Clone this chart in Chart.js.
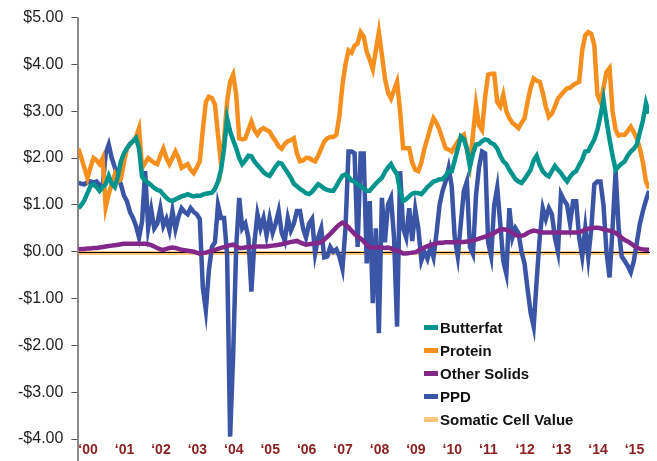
<!DOCTYPE html>
<html>
<head>
<meta charset="utf-8">
<script src="https://cdn.jsdelivr.net/npm/chart.js@4.4.0/dist/chart.umd.min.js"></script>
<style>
body { margin: 0; background: #fff; }
#wrap { position: relative; width: 657px; height: 461px; }
#legend { position: absolute; left: 424px; top: 316px; font: bold 15px "Liberation Sans", Arial, sans-serif; color: #111; }
.row { height: 23px; display: flex; align-items: center; white-space: nowrap; }
.sw { width: 14px; height: 5px; margin-right: 2px; }
</style>
</head>
<body>
<div id="wrap">
<canvas id="myChart" width="657" height="461"></canvas>
<div id="legend"></div>
</div>
<script>
// monthly values, Jan 2000 - Sep 2015 ($/cwt)
const yearLabels = ['‘00', '‘01', '‘02', '‘03', '‘04', '‘05', '‘06', '‘07', '‘08', '‘09', '‘10', '‘11', '‘12', '‘13', '‘14', '‘15'];

const butterfat = [
    0.93, 1.0, 1.1, 1.25, 1.4, 1.44, 1.38, 1.3, 1.38, 1.44, 1.62, 1.45,
    1.38, 1.6, 1.93, 2.1, 2.21, 2.3, 2.36, 2.43, 2.2, 1.6, 1.52, 1.47,
    1.42, 1.36, 1.32, 1.3, 1.22, 1.15, 1.1, 1.08, 1.12, 1.15, 1.18, 1.2,
    1.23, 1.2, 1.18, 1.2, 1.19, 1.22, 1.24, 1.25, 1.26, 1.34, 1.5, 1.75,
    2.2, 2.85, 2.57, 2.38, 2.21, 2.0, 1.87, 1.95, 2.05, 2.04, 1.93, 1.85,
    1.78, 1.7, 1.65, 1.62, 1.72, 1.82, 1.9, 1.88, 1.78, 1.68, 1.58, 1.45,
    1.4, 1.34, 1.3, 1.25, 1.23, 1.28, 1.36, 1.44, 1.4, 1.35, 1.32, 1.3,
    1.3, 1.4, 1.52, 1.62, 1.65, 1.6, 1.52, 1.5, 1.44, 1.4, 1.35, 1.3,
    1.3, 1.38, 1.45, 1.52, 1.58, 1.7, 1.8, 1.87, 1.75, 1.65, 1.3, 1.08,
    1.12, 1.18, 1.24, 1.26, 1.25, 1.23, 1.3, 1.38, 1.44, 1.5, 1.52, 1.55,
    1.55, 1.62, 1.72, 1.72, 1.95, 2.2, 2.46, 2.4, 2.2, 1.82, 2.1, 2.29,
    2.3, 2.36, 2.4, 2.38, 2.32, 2.29, 2.2, 2.05, 1.93, 1.87, 1.75, 1.65,
    1.55, 1.5, 1.47, 1.55, 1.65, 1.75, 1.95, 2.05, 1.85, 1.72, 1.65, 1.61,
    1.72, 1.83, 1.75, 1.68, 1.58, 1.5, 1.6, 1.68, 1.72, 1.85, 1.97, 2.14,
    2.15, 2.28, 2.4, 2.6, 2.9, 3.25, 2.8, 2.4, 2.05, 1.75, 1.82, 1.88,
    1.93, 2.05, 2.14, 2.2, 2.29, 2.55, 2.8, 3.17, 2.95
];

const protein = [
    2.2, 2.0, 1.79, 1.57, 1.8, 2.0, 1.95, 1.87, 2.0, 0.95, 1.23, 1.45,
    1.65, 1.5, 1.55, 1.9, 2.2, 2.3, 2.36, 2.45, 2.64, 1.79, 1.9, 2.0,
    1.95, 1.9, 1.87, 2.05, 2.2, 2.0, 1.87, 2.0, 2.14, 2.0, 1.79, 1.83,
    1.87, 1.75, 1.68, 1.8, 1.93, 2.6, 3.2, 3.31, 3.28, 3.14, 2.5, 1.87,
    2.4, 3.2, 3.63, 3.78, 3.35, 2.42, 2.4, 2.42, 2.6, 2.78, 2.6, 2.5,
    2.6, 2.64, 2.6, 2.57, 2.45, 2.36, 2.25, 2.2, 2.3, 2.36, 2.38, 2.42,
    2.1, 1.93, 1.95, 2.0, 2.0, 1.96, 1.93, 2.05, 2.2, 2.35, 2.42, 2.45,
    2.45, 2.5, 2.9, 3.56, 4.0, 4.3, 4.25, 4.4, 4.45, 4.69, 4.6, 4.27,
    4.1, 3.9, 4.3, 4.69, 4.2, 3.7, 3.4, 3.27, 3.45, 3.63, 3.0, 2.21,
    2.21, 2.21, 1.9, 1.75, 1.72, 1.9, 2.2, 2.42, 2.65, 2.85, 2.75, 2.6,
    2.4, 2.21, 2.18, 2.14, 2.25, 2.35, 2.45, 2.5, 2.2, 1.87, 2.5, 3.14,
    2.7, 2.6, 3.3, 3.78, 3.8, 3.8, 3.2, 3.1, 3.35, 3.0, 2.85, 2.75,
    2.7, 2.64, 2.75, 2.85, 3.2, 3.5, 3.7, 3.65, 3.63, 3.4, 3.1, 2.88,
    2.95, 3.1, 3.27, 3.35, 3.42, 3.49, 3.5, 3.56, 3.6, 3.63, 4.3, 4.62,
    4.69, 4.65, 4.4, 3.35, 3.2, 3.5, 3.84, 3.92, 3.0, 2.6, 2.48, 2.5,
    2.5, 2.58, 2.67, 2.55, 2.42, 2.2, 1.9, 1.5, 1.35
];

const otherSolids = [
    0.05, 0.06, 0.06, 0.07, 0.07, 0.08, 0.08, 0.09, 0.1, 0.11, 0.12, 0.13,
    0.14, 0.15, 0.16, 0.17, 0.17, 0.17, 0.17, 0.17, 0.17, 0.17, 0.17, 0.16,
    0.14, 0.11, 0.08, 0.05, 0.04, 0.06, 0.08, 0.09, 0.08, 0.06, 0.04, 0.03,
    0.02, 0.01, 0.0, -0.02, -0.04, -0.03, -0.02, 0.0, 0.02, 0.04, 0.06, 0.08,
    0.1, 0.12, 0.14, 0.15, 0.11, 0.08, 0.08, 0.09, 0.1, 0.1, 0.11, 0.11,
    0.11, 0.11, 0.11, 0.12, 0.13, 0.14, 0.15, 0.16, 0.18, 0.19, 0.21, 0.22,
    0.23, 0.2, 0.17, 0.15, 0.16, 0.17, 0.18, 0.19, 0.2, 0.26, 0.32, 0.38,
    0.45, 0.52, 0.58, 0.62, 0.58, 0.52, 0.45, 0.38, 0.32, 0.28, 0.22, 0.15,
    0.09, 0.09, 0.09, 0.09, 0.09, 0.08, 0.09, 0.07, 0.04, 0.02, 0.0, -0.04,
    -0.04, -0.03, -0.02, -0.01, 0.02, 0.06, 0.09, 0.12, 0.14, 0.16, 0.18, 0.19,
    0.19, 0.2, 0.2, 0.2, 0.2, 0.21, 0.21, 0.21, 0.22, 0.22, 0.24, 0.26,
    0.28, 0.3, 0.32, 0.34, 0.37, 0.4, 0.44, 0.47, 0.48, 0.47, 0.44, 0.4,
    0.36, 0.34, 0.34, 0.36, 0.4, 0.43, 0.45, 0.44, 0.42, 0.41, 0.41, 0.41,
    0.41, 0.41, 0.41, 0.41, 0.41, 0.41, 0.41, 0.41, 0.41, 0.42, 0.44, 0.47,
    0.49, 0.5, 0.51, 0.51, 0.5, 0.48, 0.46, 0.45, 0.43, 0.4, 0.35, 0.3,
    0.25, 0.22, 0.18, 0.13, 0.09, 0.06, 0.05, 0.04, 0.04
];

const ppd = [
    1.47, 1.45, 1.44, 1.48, 1.5, 1.47, 1.5, 1.42, 1.37, 2.1, 2.29, 2.0,
    1.8, 1.6, 1.44, 1.2, 1.08, 0.85, 0.72, 0.55, 0.3, 0.65, 1.72, 0.51,
    0.9, 0.5, 0.6, 0.93, 0.55, 0.7, 0.45, 0.87, 0.48, 0.75, 0.93, 0.85,
    0.8, 0.93, 0.85, 0.8, 0.7, -0.76, -1.25, -0.4, 0.1, 0.2, 1.0, 0.72,
    0.72, -0.05, -3.95, -2.2, 0.1, 1.15, 0.5, 0.6, 0.3, -0.85, 0.2, 0.8,
    0.5, 0.72, 0.35, 0.72, 0.4, 0.6, 0.87, 0.4, 0.23, 0.72, 0.45, 0.6,
    0.87, 0.87, 0.5, 0.3, 0.6, 0.7, -0.04, 0.3, 0.5, -0.12, -0.1, 0.1,
    0.0, 0.05, -0.1, -0.36, 0.5, 2.14, 2.14, 2.1, 0.1, 2.1, 2.1, -0.25,
    1.08, -1.1, 0.5, -1.74, 1.15, 0.2, 1.0, 1.15, 0.3, -1.6, 1.72, 0.5,
    0.3, 0.93, 0.23, 0.9, 0.5, -0.19, 0.0, -0.15, 0.1, -0.12, 0.4, 1.0,
    1.3, 1.5, 1.79, 1.4, 0.3, -0.1, 0.6, 1.3, 1.5, 0.1, -0.05, 1.2,
    1.8, 2.14, 2.1, 0.2, -0.1, 1.0, 1.37, 0.6, -0.2, -0.47, 0.93, 0.3,
    0.5, 0.4, 0.0, -0.25, -0.8, -1.3, -1.6, -0.6, 0.3, 0.93, 0.7, 0.93,
    0.8, 0.3, 0.0, 1.23, 1.1, 1.0, 0.6, 1.08, 1.08, 0.3, -0.1, 0.5,
    -0.12, 0.5, 1.44, 1.5, 1.5, 1.0, 0.0, -0.55, 0.5, 1.72, 0.5, -0.1,
    -0.2, -0.3, -0.44, -0.2, 0.2, 0.6, 0.87, 1.1, 1.3
];

const somaticCell = [
    -0.03, -0.03, -0.03, -0.03, -0.03, -0.03, -0.03, -0.03, -0.03, -0.03, -0.03, -0.03,
    -0.03, -0.03, -0.03, -0.03, -0.03, -0.03, -0.03, -0.03, -0.03, -0.03, -0.03, -0.03,
    -0.03, -0.03, -0.03, -0.03, -0.03, -0.03, -0.03, -0.03, -0.03, -0.03, -0.03, -0.03,
    -0.03, -0.03, -0.03, -0.03, -0.03, -0.03, -0.03, -0.03, -0.03, -0.03, -0.03, -0.03,
    -0.03, -0.03, -0.03, -0.03, -0.03, -0.03, -0.03, -0.03, -0.03, -0.03, -0.03, -0.03,
    -0.03, -0.03, -0.03, -0.03, -0.03, -0.03, -0.03, -0.03, -0.03, -0.03, -0.03, -0.03,
    -0.03, -0.03, -0.03, -0.03, -0.03, -0.03, -0.03, -0.03, -0.03, -0.03, -0.03, -0.03,
    -0.03, -0.03, -0.03, -0.03, -0.03, -0.03, -0.03, -0.03, -0.03, -0.03, -0.03, -0.03,
    -0.03, -0.03, -0.03, -0.03, -0.03, -0.03, -0.03, -0.03, -0.03, -0.03, -0.03, -0.03,
    -0.03, -0.03, -0.03, -0.03, -0.03, -0.03, -0.03, -0.03, -0.03, -0.03, -0.03, -0.03,
    -0.03, -0.03, -0.03, -0.03, -0.03, -0.03, -0.03, -0.03, -0.03, -0.03, -0.03, -0.03,
    -0.03, -0.03, -0.03, -0.03, -0.03, -0.03, -0.03, -0.03, -0.03, -0.03, -0.03, -0.03,
    -0.03, -0.03, -0.03, -0.03, -0.03, -0.03, -0.03, -0.03, -0.03, -0.03, -0.03, -0.03,
    -0.03, -0.03, -0.03, -0.03, -0.03, -0.03, -0.03, -0.03, -0.03, -0.03, -0.03, -0.03,
    -0.03, -0.03, -0.03, -0.03, -0.03, -0.03, -0.03, -0.03, -0.03, -0.03, -0.03, -0.03,
    -0.03, -0.03, -0.03, -0.03, -0.03, -0.03, -0.03, -0.03, -0.03
];

// month positions on a decimal-year axis
const months = butterfat.map((_, i) => 2000 + i / 12);
const pts = arr => arr.map((v, i) => ({ x: months[i], y: v }));

const series = [
    { label: 'Butterfat', data: butterfat, color: '#00948C' },
    { label: 'Protein', data: protein, color: '#F78F1E' },
    { label: 'Other Solids', data: otherSolids, color: '#82288A' },
    { label: 'PPD', data: ppd, color: '#3A54A6' },
    { label: 'Somatic Cell Value', data: somaticCell, color: '#FFC67C' }
];

// black zero line over the somatic band, under the other series,
// and the y axis line running down past the last tick
const axisLines = {
    id: 'axisLines',
    afterDatasetDraw(chart, args) {
        if (args.index !== series.length - 1) return;
        const { ctx, chartArea } = chart;
        const y0 = Math.round(chart.scales.y.getPixelForValue(0)) + 0.5;
        ctx.save();
        ctx.strokeStyle = '#000';
        ctx.lineWidth = 1;
        ctx.beginPath();
        ctx.moveTo(chartArea.left, y0);
        ctx.lineTo(chartArea.right + 1, y0);
        ctx.stroke();
        ctx.restore();
    },
    afterDraw(chart) {
        const { ctx, chartArea } = chart;
        const x = Math.round(chartArea.left);
        ctx.save();
        ctx.strokeStyle = '#8a8a8a';
        ctx.lineWidth = 2;
        ctx.beginPath();
        ctx.moveTo(x, chartArea.bottom - 1);
        ctx.lineTo(x, chart.height);
        ctx.stroke();
        ctx.restore();
    }
};

const ctx = document.getElementById('myChart').getContext('2d');
const myChart = new Chart(ctx, {
    type: 'line',
    data: {
        datasets: series.map((s, i) => ({
            label: s.label,
            data: pts(s.data),
            borderColor: s.color,
            backgroundColor: s.color,
            borderWidth: i === series.length - 1 ? 4 : 4.5,
            pointRadius: 0,
            tension: 0,
            fill: false
        }))
    },
    options: {
        responsive: false,
        animation: false,
        layout: { padding: { left: 10, right: 8, top: 15, bottom: 0 } },
        plugins: { legend: { display: false }, tooltip: { enabled: false } },
        scales: {
            x: {
                type: 'linear',
                min: 2000,
                max: 2015 + 8 / 12,
                border: { display: false },
                grid: { display: false, drawTicks: false },
                ticks: {
                    stepSize: 1,
                    includeBounds: false,
                    autoSkip: false,
                    maxRotation: 0,
                    align: 'start',
                    padding: 4,
                    color: '#8C2222',
                    font: { family: 'Liberation Sans', size: 14, weight: 'bold', lineHeight: 1 },
                    callback: v => yearLabels[Math.round(v) - 2000]
                }
            },
            y: {
                min: -4,
                max: 5,
                border: { color: '#8a8a8a', width: 2 },
                grid: {
                    drawOnChartArea: false,
                    tickLength: 7,
                    tickColor: '#555',
                    lineWidth: 1
                },
                ticks: {
                    stepSize: 1,
                    padding: 8,
                    color: '#1e1e1e',
                    font: { family: 'Liberation Sans', size: 16 },
                    callback: v => (v < 0 ? '-$' : '$') + Math.abs(v).toFixed(2)
                }
            }
        }
    },
    plugins: [axisLines]
});

// legend inside the plot, built from the datasets
const legend = document.getElementById('legend');
myChart.data.datasets.forEach(ds => {
    const row = document.createElement('div');
    row.className = 'row';
    const sw = document.createElement('span');
    sw.className = 'sw';
    sw.style.background = ds.borderColor;
    const txt = document.createElement('span');
    txt.textContent = ds.label;
    row.appendChild(sw);
    row.appendChild(txt);
    legend.appendChild(row);
});
</script>
</body>
</html>
